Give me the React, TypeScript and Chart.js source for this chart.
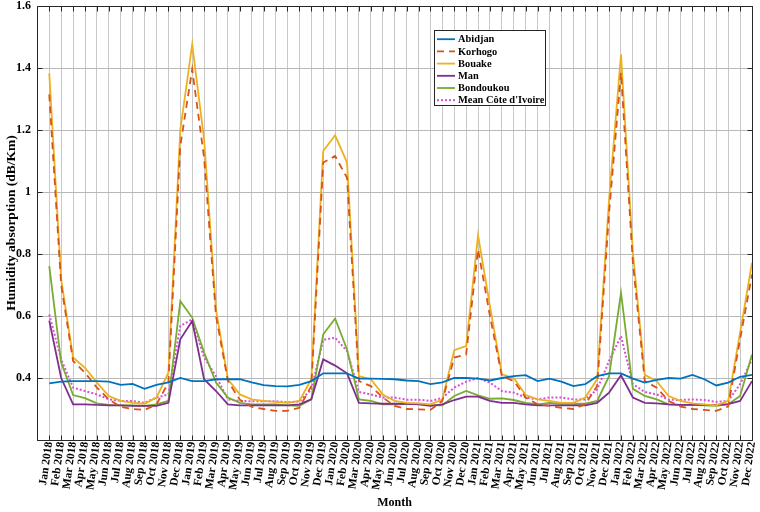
import React, { useEffect, useRef } from "react";
import { Chart, registerables } from "chart.js";
Chart.register(...registerables);

const monthNames = ["Jan", "Feb", "Mar", "Apr", "May", "Jun", "Jul", "Aug", "Sep", "Oct", "Nov", "Dec"];
const years = [2018, 2019, 2020, 2021, 2022];
const months: string[] = years.flatMap((y) => monthNames.map((m) => `${m} ${y}`));

const abidjan = [
  0.383, 0.388, 0.390, 0.390, 0.390, 0.388, 0.378, 0.381, 0.365, 0.378, 0.386, 0.400,
  0.390, 0.390, 0.396, 0.396, 0.396, 0.386, 0.377, 0.374, 0.373, 0.378, 0.390, 0.415,
  0.415, 0.415, 0.398, 0.398, 0.397, 0.396, 0.392, 0.390, 0.380, 0.386, 0.400, 0.400,
  0.398, 0.392, 0.400, 0.406, 0.409, 0.390, 0.398, 0.388, 0.374, 0.380, 0.406, 0.415,
  0.415, 0.398, 0.385, 0.394, 0.400, 0.398, 0.410, 0.396, 0.376, 0.385, 0.404, 0.410,
];
const korhogo = [
  1.315, 0.700, 0.455, 0.417, 0.369, 0.331, 0.307, 0.300, 0.297, 0.315, 0.385, 1.148,
  1.396, 1.110, 0.600, 0.390, 0.330, 0.307, 0.300, 0.294, 0.294, 0.304, 0.374, 1.095,
  1.116, 1.046, 0.390, 0.374, 0.337, 0.310, 0.300, 0.299, 0.297, 0.326, 0.466, 0.476,
  0.815, 0.600, 0.406, 0.390, 0.337, 0.315, 0.310, 0.304, 0.300, 0.315, 0.374, 0.933,
  1.385, 0.772, 0.390, 0.369, 0.326, 0.308, 0.300, 0.297, 0.294, 0.308, 0.525, 0.734,
];
const bouake = [
  1.383, 0.718, 0.466, 0.433, 0.385, 0.342, 0.326, 0.320, 0.317, 0.337, 0.417, 1.200,
  1.476, 1.170, 0.620, 0.396, 0.347, 0.331, 0.326, 0.323, 0.320, 0.326, 0.396, 1.132,
  1.183, 1.095, 0.406, 0.396, 0.347, 0.326, 0.320, 0.318, 0.315, 0.330, 0.490, 0.503,
  0.860, 0.632, 0.412, 0.400, 0.345, 0.331, 0.326, 0.320, 0.320, 0.337, 0.396, 0.976,
  1.444, 0.804, 0.410, 0.390, 0.342, 0.326, 0.318, 0.315, 0.312, 0.326, 0.546, 0.772,
];
const man = [
  0.585, 0.400, 0.315, 0.315, 0.313, 0.312, 0.312, 0.310, 0.310, 0.310, 0.320, 0.525,
  0.584, 0.396, 0.358, 0.315, 0.312, 0.312, 0.312, 0.312, 0.312, 0.315, 0.331, 0.460,
  0.440, 0.415, 0.320, 0.318, 0.317, 0.317, 0.317, 0.315, 0.310, 0.315, 0.329, 0.340,
  0.340, 0.326, 0.320, 0.320, 0.315, 0.312, 0.312, 0.312, 0.312, 0.312, 0.320, 0.353,
  0.409, 0.337, 0.320, 0.318, 0.315, 0.313, 0.313, 0.313, 0.313, 0.316, 0.326, 0.390,
];
const bondoukou = [
  0.761, 0.450, 0.345, 0.335, 0.318, 0.313, 0.312, 0.312, 0.310, 0.315, 0.326, 0.648,
  0.595, 0.482, 0.385, 0.337, 0.320, 0.315, 0.315, 0.315, 0.312, 0.310, 0.331, 0.541,
  0.592, 0.492, 0.331, 0.326, 0.315, 0.315, 0.316, 0.317, 0.312, 0.312, 0.342, 0.358,
  0.344, 0.333, 0.334, 0.329, 0.320, 0.315, 0.320, 0.317, 0.317, 0.317, 0.326, 0.406,
  0.675, 0.365, 0.342, 0.331, 0.315, 0.313, 0.313, 0.312, 0.310, 0.315, 0.342, 0.476,
];
const meanCI = [
  0.605, 0.460, 0.369, 0.358, 0.347, 0.331, 0.326, 0.326, 0.320, 0.337, 0.347, 0.568,
  0.589, 0.466, 0.406, 0.331, 0.326, 0.325, 0.325, 0.325, 0.322, 0.324, 0.363, 0.523,
  0.530, 0.487, 0.355, 0.347, 0.337, 0.337, 0.330, 0.330, 0.326, 0.336, 0.369, 0.388,
  0.400, 0.385, 0.358, 0.353, 0.337, 0.331, 0.337, 0.337, 0.331, 0.331, 0.363, 0.455,
  0.535, 0.380, 0.355, 0.347, 0.330, 0.329, 0.331, 0.329, 0.323, 0.326, 0.380, 0.460,
];

const seriesNames = ["Abidjan", "Korhogo", "Bouake", "Man", "Bondoukou", "Mean Côte d'Ivoire"];
const seriesValues = [abidjan, korhogo, bouake, man, bondoukou, meanCI];
const seriesColors = ["#0072BD", "#D95319", "#EDB120", "#7E2F8E", "#77AC30", "#D84FD8"];
const seriesDash: number[][] = [[], [7, 5], [], [], [], [2, 2]];

const FONT = "'Liberation Serif', 'Times New Roman', serif";

const framePlugin = {
  id: "frame",
  afterDraw(chart: any) {
    const { ctx, chartArea: a, scales } = chart;
    const x = scales.x;
    const y = scales.y;
    ctx.save();
    ctx.strokeStyle = "#262626";
    ctx.lineWidth = 1;
    ctx.setLineDash([]);
    const L = Math.round(a.left) + 0.5;
    const R = Math.round(a.right) + 0.5;
    const T = Math.round(a.top) + 0.5;
    const B = Math.round(a.bottom) + 0.5;
    ctx.beginPath();
    ctx.rect(L, T, R - L, B - T);
    x.ticks.forEach((t: any) => {
      const px = Math.round(x.getPixelForValue(t.value)) + 0.5;
      ctx.moveTo(px, B);
      ctx.lineTo(px, B - 5);
      ctx.moveTo(px, T);
      ctx.lineTo(px, T + 5);
    });
    y.ticks.forEach((t: any) => {
      const py = Math.round(y.getPixelForValue(t.value)) + 0.5;
      ctx.moveTo(L, py);
      ctx.lineTo(L + 5, py);
      ctx.moveTo(R, py);
      ctx.lineTo(R - 5, py);
    });
    ctx.stroke();

    // legend
    const bx = 434.5, by = 30.5, bw = 111, bh = 75;
    ctx.fillStyle = "#ffffff";
    ctx.fillRect(bx, by, bw, bh);
    ctx.strokeStyle = "#262626";
    ctx.strokeRect(bx, by, bw, bh);
    ctx.font = `bold 10.4px ${FONT}`;
    ctx.textBaseline = "middle";
    ctx.textAlign = "left";
    chart.data.datasets.forEach((ds: any, i: number) => {
      const ry = by + 8.7 + i * 12.2;
      ctx.beginPath();
      ctx.strokeStyle = ds.borderColor;
      ctx.lineWidth = ds.borderWidth;
      ctx.setLineDash(ds.borderDash || []);
      ctx.moveTo(437, ry);
      ctx.lineTo(455, ry);
      ctx.stroke();
      ctx.setLineDash([]);
      ctx.fillStyle = "#000000";
      ctx.fillText(ds.label, 458, ry + 0.5);
    });
    ctx.restore();
  },
};

export default function App() {
  const ref = useRef<HTMLCanvasElement>(null);
  useEffect(() => {
    document.body.style.margin = "0";
    const canvas = ref.current!;
    const chart = new Chart(canvas, {
      type: "line",
      data: {
        datasets: seriesNames.map((name, k) => ({
          label: name,
          data: seriesValues[k].map((v, i) => ({ x: i, y: v })),
          borderColor: seriesColors[k],
          backgroundColor: seriesColors[k],
          borderWidth: k === 5 ? 2 : 1.8,
          borderDash: seriesDash[k],
          pointRadius: 0,
          tension: 0,
          fill: false,
        })),
      },
      options: {
        responsive: false,
        animation: false,
        devicePixelRatio: 1,
        layout: { padding: { top: 0, right: 0, left: 0, bottom: 0 } },
        plugins: {
          legend: { display: false },
          tooltip: { enabled: false },
        },
        scales: {
          x: {
            type: "linear",
            min: -1.03,
            max: months.length - 1,
            afterBuildTicks: (s: any) => {
              s.ticks = months.map((_, i) => ({ value: i }));
            },
            afterFit: (s: any) => {
              s.height = 72;
              s.paddingRight = 8;
              s.paddingLeft = 0;
            },
            grid: { color: "#c8c8c8", lineWidth: 1, drawTicks: false },
            border: { display: false },
            ticks: {
              autoSkip: false,
              minRotation: 82,
              maxRotation: 82,
              padding: 1,
              color: "#000000",
              font: { family: FONT, size: 11.5, weight: "bold" },
              callback: (v: any) => months[Math.round(Number(v))] ?? "",
            },
            title: {
              display: true,
              text: "Month",
              color: "#000000",
              font: { family: FONT, size: 12, weight: "bold" },
              padding: { top: 0, bottom: 2 },
            },
          },
          y: {
            type: "linear",
            min: 0.2,
            max: 1.6,
            afterFit: (s: any) => {
              s.width = 37;
              s.paddingTop = 6;
              s.paddingBottom = 0;
            },
            grid: { color: "#b8b8b8", lineWidth: 1, drawTicks: false },
            border: { display: false },
            ticks: {
              stepSize: 0.2,
              padding: 6,
              color: "#000000",
              font: { family: FONT, size: 12, weight: "bold" },
              callback: (v: any) => {
                const n = Number(Number(v).toFixed(1));
                return n < 0.3 ? "" : String(n);
              },
            },
            title: {
              display: true,
              text: "Humidity absorption (dB/Km)",
              color: "#000000",
              font: { family: FONT, size: 13.5, weight: "bold" },
              padding: { top: 3, bottom: 0 },
            },
          },
        },
      },
      plugins: [framePlugin],
    });
    return () => chart.destroy();
  }, []);
  return (
    <div style={{ width: 760, height: 512 }}>
      <canvas ref={ref} width={760} height={512} style={{ display: "block" }} />
    </div>
  );
}
